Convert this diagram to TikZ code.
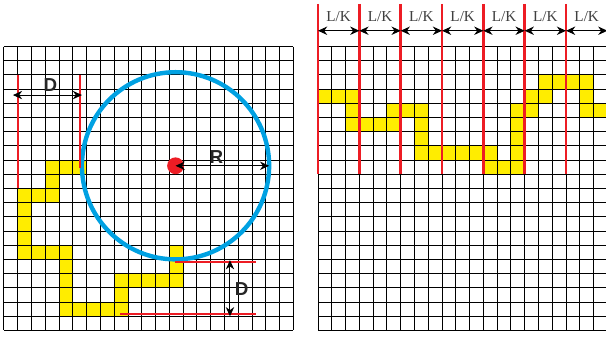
\documentclass[tikz,border=0pt]{standalone}
\usepackage{fontspec}
\setmainfont{Liberation Serif}
\setsansfont{Liberation Sans}
\usetikzlibrary{arrows.meta,calc}
\definecolor{cellyellow}{RGB}{255,237,0}
\definecolor{linered}{RGB}{237,28,36}
\definecolor{circblue}{RGB}{0,161,226}

\begin{document}
\begin{tikzpicture}[
    x=6.89pt, y=-7.1pt,
    gridline/.style={draw=black, line width=0.5pt},
    cell/.style={fill=cellyellow},
    redline/.style={draw=linered, line width=1pt},
    bigred/.style={draw=linered, line width=1.4pt},
    dim/.style={{Stealth[length=4.6pt,width=4.2pt]}-{Stealth[length=4.6pt,width=4.2pt]}, line width=0.5pt},
    lbl/.style={font=\sffamily\bfseries\fontsize{9.4}{10}\selectfont, text=black!85, inner sep=0pt},
    lk/.style={font=\fontsize{7.6}{8}\selectfont, text=black!75, inner sep=0pt}
]
\useasboundingbox (-0.29,-3.275) rectangle (43.69,20.6);

% Panel izquierdo: celdas amarillas
\foreach \c/\r in {3/8,4/8,5/8,3/9,1/10,2/10,3/10,1/11,1/12,1/13,1/14,2/14,3/14,4/14,
                   4/15,4/16,4/17,4/18,5/18,6/18,7/18,8/18,8/17,8/16,9/16,10/16,11/16,12/16,12/15,12/14}
  \fill[cell] (\c,\r) rectangle ++(1,1);

% Panel izquierdo: rejilla
\foreach \i in {0,...,21} \draw[gridline] (\i,0) -- (\i,20);
\foreach \j in {0,...,20} \draw[gridline] (0,\j) -- (21,\j);

% Circulo de radio R
\coordinate (ctr) at (12.45,8.4);
\draw[circblue, line width=2.2pt] (ctr) circle[radius=46.8pt];
\fill[linered] (ctr) circle[radius=4.2pt];
\coordinate (rim) at ($(ctr)+(46.8pt,0)$);
\draw[dim] (ctr) -- (rim);
\node[lbl] (rlabel) at (15.42,7.8) {R};

% Distancia D horizontal
\draw[redline] (1,2) -- (1,10);
\draw[redline] (5.52,2) -- (5.52,8.55);
\coordinate (dl) at (0.65,3.42);
\coordinate (dr) at (5.66,3.42);
\draw[dim] (dl) -- (dr);
\node[lbl] (dtop) at (3.36,2.71) {D};

% Distancia D vertical
\draw[redline] (12.41,15.15) -- (18.29,15.15);
\draw[redline] (8.42,18.84) -- (18.29,18.84);
\coordinate (du) at (16.4,15.05);
\coordinate (dd) at (16.4,19.0);
\draw[dim] (du) -- (dd);
\node[lbl] (dside) at (17.25,17.1) {D};

% Panel derecho
\begin{scope}[shift={(22.79,0)}]
\foreach \c/\r in {0/3,1/3,2/3,2/4,2/5,3/5,4/5,5/5,5/4,6/4,7/4,7/5,7/6,7/7,8/7,9/7,10/7,11/7,12/7,
                   12/8,13/8,14/8,14/7,14/6,14/5,14/4,15/4,15/3,16/3,16/2,17/2,18/2,19/2,19/3,19/4,20/4}
  \fill[cell] (\c,\r) rectangle ++(1,1);

\foreach \i in {0,...,21} \draw[gridline] (\i,0) -- (\i,20);
\foreach \j in {0,...,20} \draw[gridline] (0,\j) -- (21,\j);

% Segmentos L/K
\foreach \k in {0,3,...,21} \draw[bigred] (\k,-3) -- (\k,9);
\foreach \k in {0,3,...,18} {
  \coordinate (a\k) at (\k,-1.11);
  \coordinate (b\k) at (\k+3,-1.11);
  \draw[dim] (a\k) -- (b\k);
  \node[lk] (lk\k) at (\k+1.5,-2.1) {L/K};
}
\end{scope}

\end{tikzpicture}
\end{document}
